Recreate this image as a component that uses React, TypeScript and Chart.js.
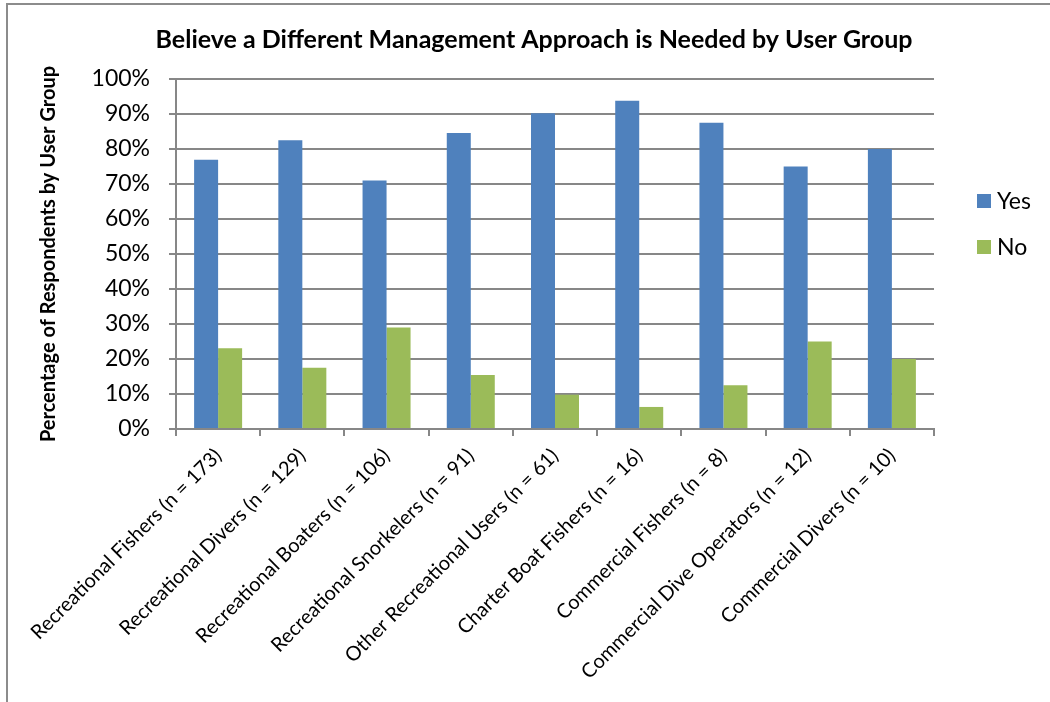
import React, { useEffect, useRef } from "react";
import { Chart, registerables } from "chart.js";

Chart.register(...registerables);

const chartTitle = "Believe a Different Management Approach is Needed by User Group";
const yAxisTitle = "Percentage of Respondents by User Group";
const categories = [
  "Recreational Fishers (n = 173)",
  "Recreational Divers (n = 129)",
  "Recreational Boaters (n = 106)",
  "Recreational Snorkelers (n = 91)",
  "Other Recreational Users (n = 61)",
  "Charter Boat Fishers (n = 16)",
  "Commercial Fishers (n = 8)",
  "Commercial Dive Operators (n = 12)",
  "Commercial Divers (n = 10)",
];
const yesValues = [76.9, 82.5, 71.0, 84.6, 90.2, 93.8, 87.5, 75.0, 80.0];
const noValues = [23.1, 17.5, 29.0, 15.4, 9.8, 6.3, 12.5, 25.0, 20.0];
const seriesNames = ["Yes", "No"];
const seriesColors = ["#4F81BD", "#9BBB59"];
const yMin = 0;
const yMax = 100;
const yStep = 10;

const FONT = 'Lato, "Open Sans", "Liberation Sans", sans-serif';
const GRID = "#878787";

const sideLegend = {
  id: "sideLegend",
  afterDraw(chart: any) {
    const { ctx, chartArea } = chart;
    ctx.save();
    ctx.font = `23px ${FONT}`;
    ctx.textBaseline = "middle";
    ctx.textAlign = "left";
    chart.data.datasets.forEach((ds: any, i: number) => {
      const x = chartArea.right + 43;
      const top = chartArea.top + 115 + i * 46;
      ctx.fillStyle = ds.backgroundColor;
      ctx.fillRect(x, top, 14, 14);
      ctx.fillStyle = "#000";
      ctx.fillText(ds.label, x + 20, top + 8);
    });
    ctx.restore();
  },
};

export default function App() {
  const ref = useRef<HTMLCanvasElement | null>(null);

  useEffect(() => {
    if (!ref.current) return;
    const chart = new Chart(ref.current, {
      type: "bar",
      data: {
        labels: categories,
        datasets: [
          { label: seriesNames[0], data: yesValues, backgroundColor: seriesColors[0], borderWidth: 0 },
          { label: seriesNames[1], data: noValues, backgroundColor: seriesColors[1], borderWidth: 0 },
        ],
      },
      options: {
        animation: false,
        responsive: false,
        maintainAspectRatio: false,
        layout: { padding: { left: 18, right: 0, top: 0, bottom: 0 } },
        datasets: { bar: { categoryPercentage: 0.57, barPercentage: 1.0 } },
        plugins: {
          legend: { display: false },
          tooltip: { enabled: false },
          title: {
            display: true,
            text: chartTitle,
            color: "#000",
            font: { family: FONT, size: 25, weight: "bold" },
            padding: { top: 25, bottom: 24 },
          },
        },
        scales: {
          x: {
            offset: true,
            grid: { display: true, drawOnChartArea: false, drawTicks: true, tickLength: 7, color: GRID, lineWidth: 2, offset: true },
            border: { display: true, color: GRID, width: 2 },
            ticks: {
              color: "#000",
              font: { family: FONT, size: 20 },
              minRotation: 45,
              maxRotation: 45,
              autoSkip: false,
              padding: 8,
            },
            afterFit: (s: any) => { s.height = 273; },
          },
          y: {
            min: yMin,
            max: yMax,
            grid: { color: GRID, lineWidth: 2, tickLength: 7, drawTicks: true },
            border: { display: true, color: GRID, width: 2 },
            ticks: {
              stepSize: yStep,
              color: "#000",
              font: { family: FONT, size: 23 },
              padding: 19,
              callback: (v: any) => `${v}%`,
            },
            title: {
              display: true,
              text: yAxisTitle,
              color: "#000",
              font: { family: FONT, size: 20, weight: "bold" },
              padding: { top: 19, bottom: 0 },
            },
            afterFit: (s: any) => { s.width = 158; },
          },
          legendSpace: {
            type: "linear",
            position: "right",
            display: true,
            grid: { display: false },
            border: { display: false },
            ticks: { display: false },
            afterFit: (s: any) => { s.width = 116; },
          },
        },
      },
      plugins: [sideLegend],
    });
    return () => chart.destroy();
  }, []);

  return (
    <>
      <div
        style={{
          position: "fixed",
          left: 6,
          top: 3,
          width: 1200,
          height: 900,
          border: "2px solid #8c8c8c",
          boxSizing: "border-box",
          pointerEvents: "none",
        }}
      />
      <div style={{ position: "fixed", left: 0, top: 0, width: 1050, height: 702 }}>
        <canvas ref={ref} width={1050} height={702} style={{ display: "block" }} />
      </div>
    </>
  );
}
